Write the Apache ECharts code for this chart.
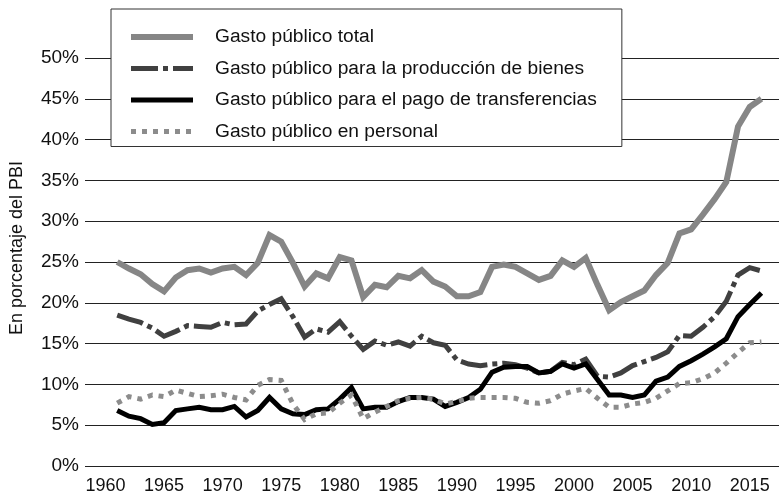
<!DOCTYPE html>
<html>
<head>
<meta charset="utf-8">
<script src="https://cdn.jsdelivr.net/npm/echarts@6/dist/echarts.min.js"></script>
<style>
  html, body { margin: 0; padding: 0; background: #fff; }
  #main { width: 782px; height: 498px; }
</style>
</head>
<body>
<div id="main"></div>
<script>
// años 1961-2016
var years = [];
for (var y = 1961; y <= 2016; y++) years.push(y);

// en % del PBI
var gastoTotal = [25.0, 24.2, 23.5, 22.3, 21.4, 23.1, 24.0, 24.2, 23.7, 24.2,
  24.4, 23.4, 24.9, 28.3, 27.5, 24.9, 22.0, 23.6, 23.0, 25.6,
  25.2, 20.7, 22.2, 21.9, 23.3, 23.0, 24.0, 22.6, 22.0, 20.8,
  20.8, 21.3, 24.4, 24.7, 24.4, 23.6, 22.8, 23.3, 25.2, 24.4,
  25.5, 22.2, 19.1, 20.1, 20.8, 21.5, 23.4, 24.9, 28.5, 29.0,
  30.8, 32.7, 34.8, 41.6, 44.0, 45.0];
var gastoBienes = [18.5, 18.0, 17.6, 16.9, 15.9, 16.5, 17.2, 17.1, 17.0, 17.6,
  17.3, 17.4, 19.0, 19.8, 20.5, 18.3, 15.8, 16.8, 16.4, 17.7,
  15.9, 14.3, 15.3, 14.8, 15.2, 14.7, 15.9, 15.1, 14.8, 13.0,
  12.5, 12.3, 12.5, 12.6, 12.4, 12.0, 11.4, 11.6, 12.7, 12.4,
  13.1, 11.0, 10.9, 11.4, 12.3, 12.8, 13.3, 14.0, 16.0, 15.9,
  17.0, 18.3, 20.2, 23.4, 24.3, 23.9];
var gastoTransferencias = [6.8, 6.1, 5.8, 5.1, 5.3, 6.8, 7.0, 7.2, 6.9, 6.9,
  7.3, 6.0, 6.8, 8.4, 7.0, 6.4, 6.3, 6.9, 7.0, 8.2,
  9.6, 7.0, 7.2, 7.2, 7.9, 8.4, 8.4, 8.2, 7.3, 7.8,
  8.4, 9.4, 11.5, 12.1, 12.2, 12.2, 11.4, 11.6, 12.5, 12.0,
  12.5, 10.6, 8.7, 8.7, 8.4, 8.7, 10.4, 10.9, 12.2, 12.9,
  13.7, 14.6, 15.6, 18.3, 19.8, 21.2];
var gastoPersonal = [7.7, 8.5, 8.2, 8.7, 8.5, 9.3, 8.9, 8.5, 8.6, 8.8,
  8.4, 8.1, 9.9, 10.6, 10.5, 7.6, 5.7, 6.4, 6.5, 7.7,
  8.7, 5.8, 6.6, 7.3, 8.0, 8.3, 8.4, 8.2, 7.6, 7.9,
  8.3, 8.4, 8.4, 8.4, 8.3, 7.8, 7.7, 8.0, 8.8, 9.2,
  9.5, 8.3, 7.2, 7.2, 7.6, 7.8, 8.3, 9.2, 10.1, 10.2,
  10.7, 11.4, 12.6, 13.9, 15.1, 15.2];

var nombres = ["Gasto público total", "Gasto público para la producción de bienes",
  "Gasto público para el pago de transferencias", "Gasto público en personal"];

var fuente = "'Liberation Sans', Arial, sans-serif";

function pares(vals) {
  return vals.map(function (v, i) { return [years[i], v]; });
}

var estilos = [
  { color: "#868686", width: 6, type: "solid" },
  { color: "#404040", width: 5, type: [27, 5, 5, 5] },
  { color: "#000000", width: 5, type: "solid" },
  { color: "#8c8c8c", width: 5, type: [5, 6] }
];
var datos = [gastoTotal, gastoBienes, gastoTransferencias, gastoPersonal];

var myChart = echarts.init(document.getElementById("main"));
var option = {
  animation: false,
  grid: { left: 81, right: 1, top: 58, bottom: 32 },
  legend: {
    orient: "vertical",
    left: 111,
    top: 9,
    padding: [16, 25, 3, 17],
    backgroundColor: "#fff",
    borderColor: "#333",
    borderWidth: 1,
    itemWidth: 62,
    itemHeight: 20,
    itemGap: 7.5,
    itemStyle: { opacity: 0 },
    textStyle: { fontFamily: fuente, fontSize: 19.2, color: "#111", lineHeight: 24, padding: [0, 0, 0, 17] },
    data: nombres.map(function (n, i) {
      return {
        name: n,
        itemStyle: { opacity: 0 },
        lineStyle: { width: estilos[i].width, type: estilos[i].type, color: estilos[i].color, cap: "butt" }
      };
    })
  },
  xAxis: {
    type: "value",
    min: 1958.25,
    max: 2017.5,
    interval: 0.25,
    axisLine: { show: false },
    axisTick: { show: false },
    splitLine: { show: false },
    axisLabel: {
      margin: 11,
      fontFamily: fuente,
      fontSize: 18,
      color: "#111",
      formatter: function (v) { return Math.abs(v % 5) < 1e-6 ? String(v) : ""; }
    }
  },
  yAxis: {
    type: "value",
    min: 0,
    max: 50,
    interval: 5,
    name: "En porcentaje del PBI",
    nameLocation: "middle",
    nameRotate: 90,
    nameGap: 59,
    nameTextStyle: { fontFamily: fuente, fontSize: 18, color: "#111", padding: [0, 0, 0, 28] },
    axisLine: { show: false },
    axisTick: { show: false },
    splitLine: { lineStyle: { color: "#222", width: 1 } },
    axisLabel: {
      margin: 6,
      fontFamily: fuente,
      fontSize: 19,
      color: "#111",
      formatter: "{value}%"
    }
  },
  series: datos.map(function (d, i) {
    return {
      name: nombres[i],
      type: "line",
      symbol: "none",
      data: pares(d),
      lineStyle: { color: estilos[i].color, width: estilos[i].width, type: estilos[i].type, cap: "butt", join: "miter" },
      itemStyle: { color: estilos[i].color }
    };
  })
};
myChart.setOption(option);
</script>
</body>
</html>
